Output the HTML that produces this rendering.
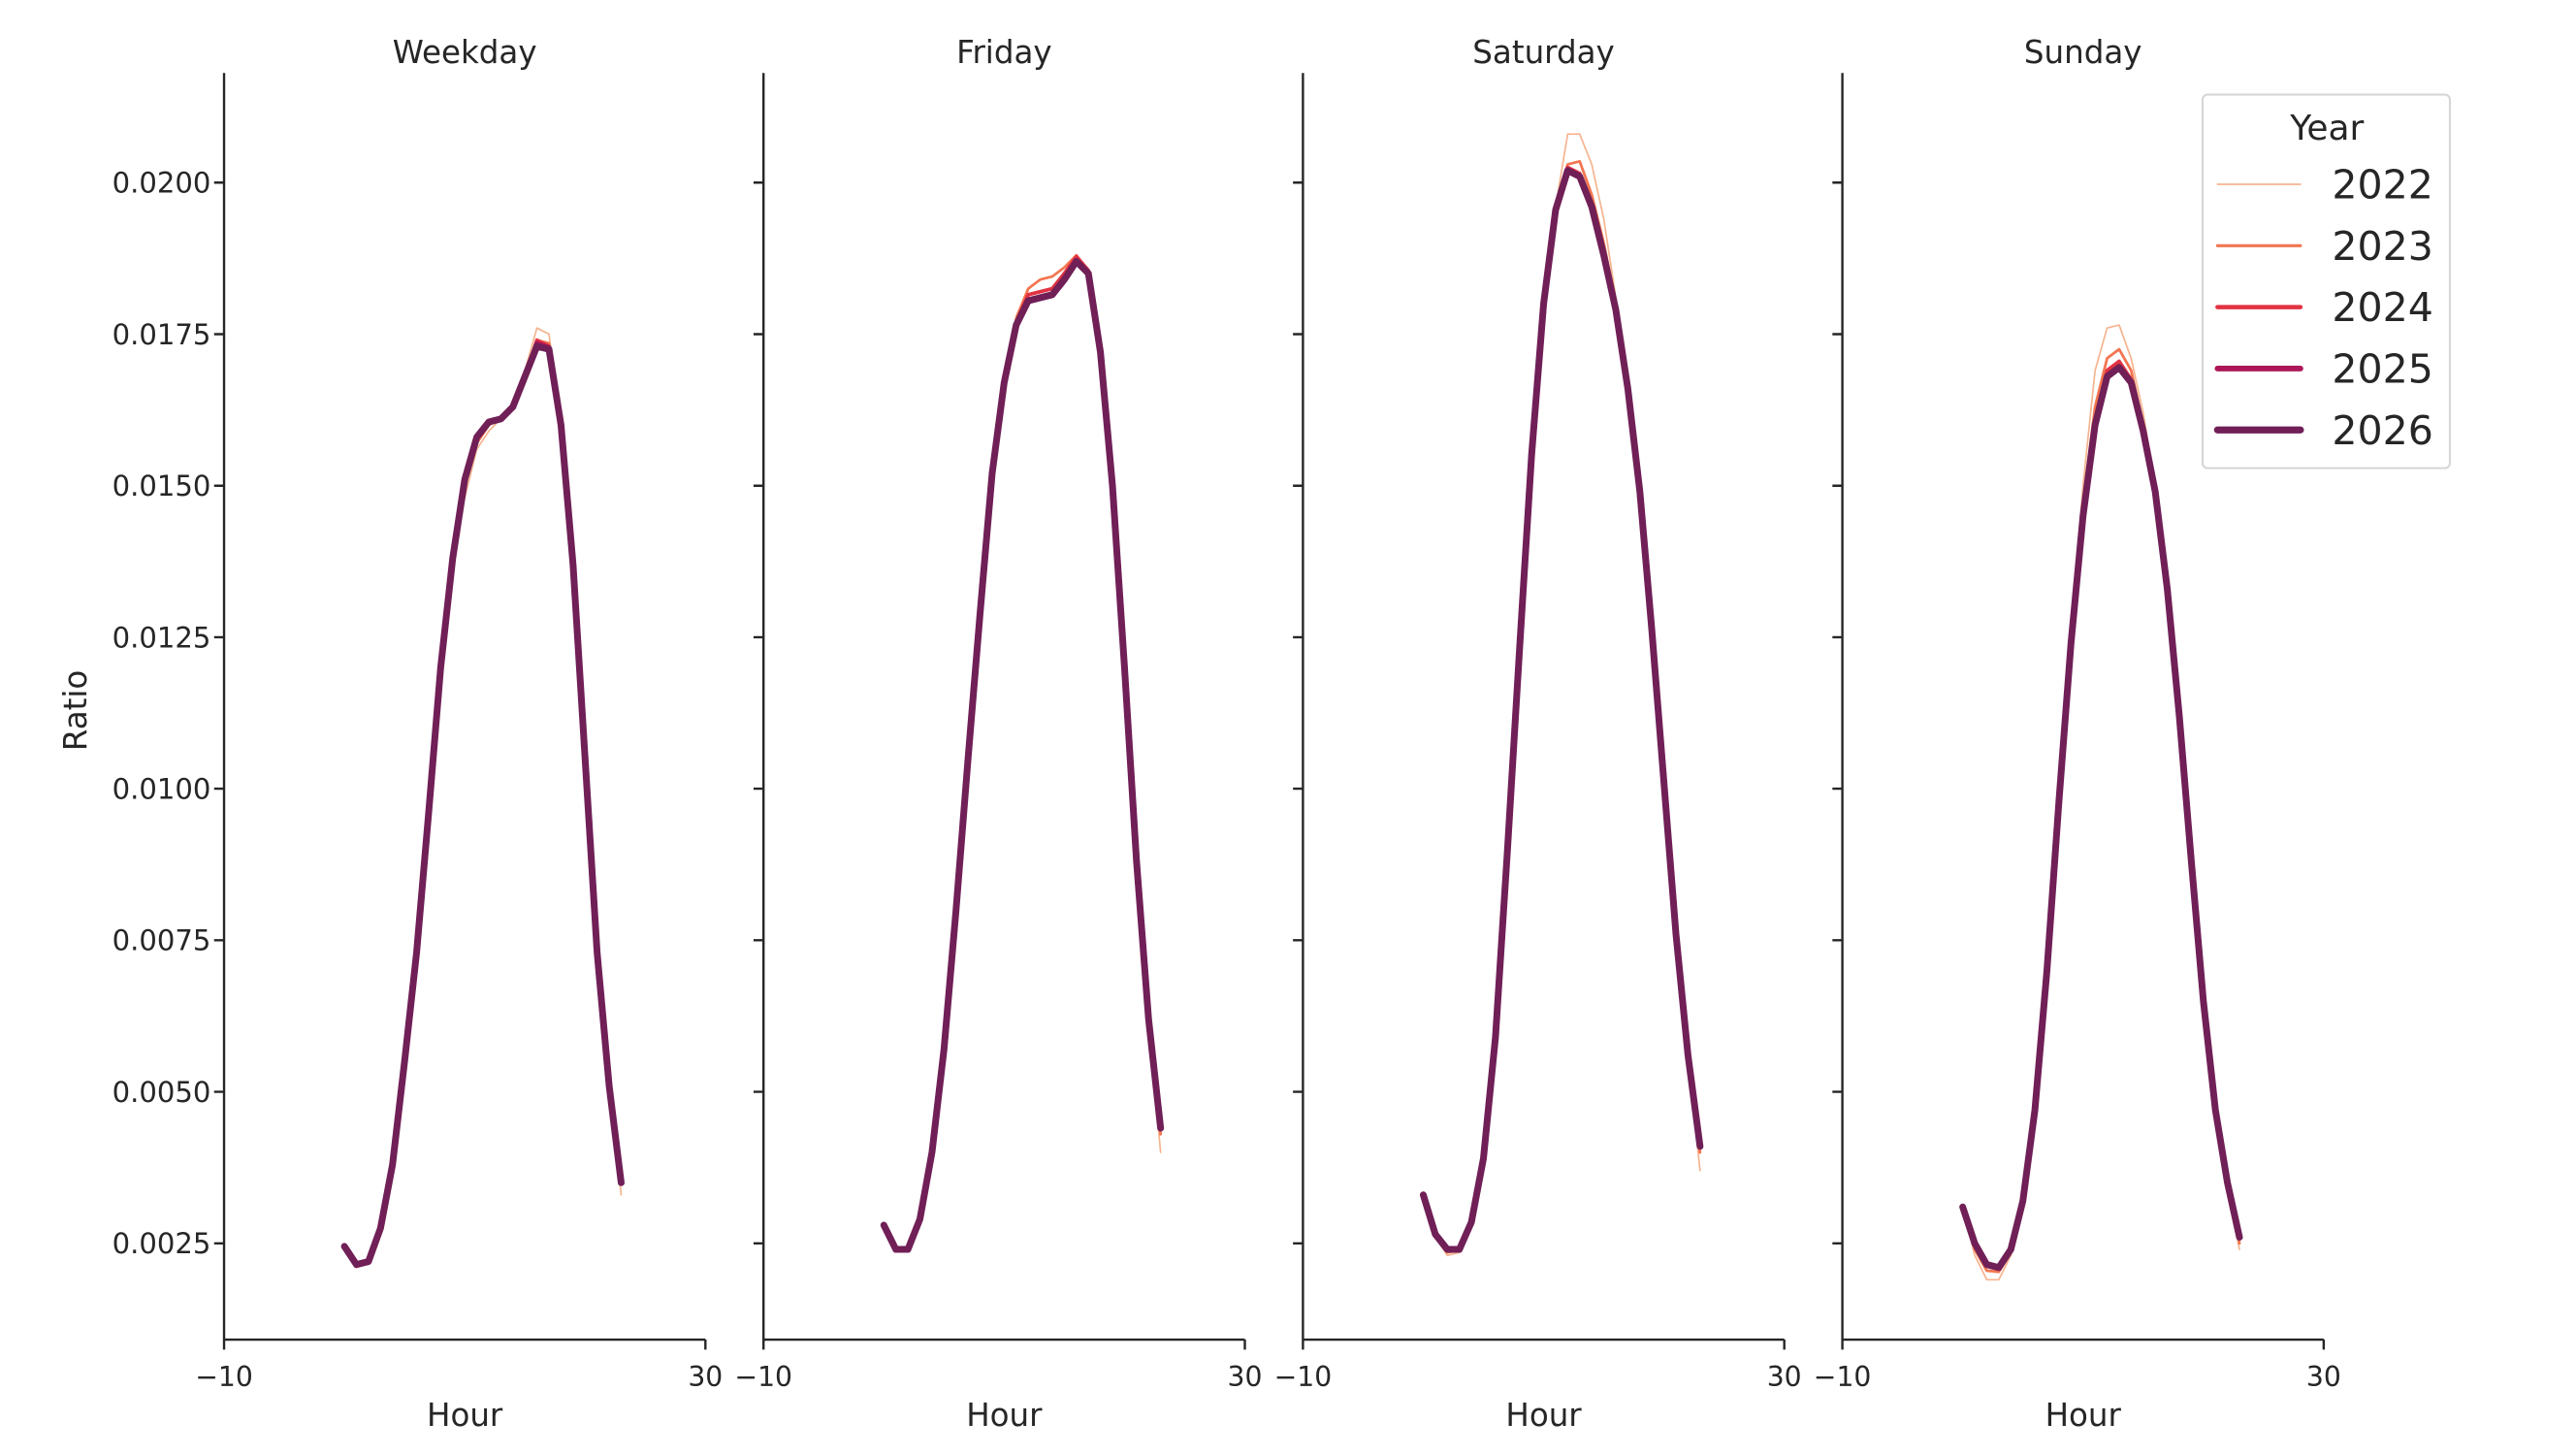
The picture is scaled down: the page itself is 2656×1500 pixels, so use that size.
<!DOCTYPE html>
<html><head><meta charset="utf-8"><style>
html,body{margin:0;padding:0;background:#fff;}
svg{display:block;}
text{font-family:"DejaVu Sans","Liberation Sans",sans-serif;fill:#262626;}
.ax{stroke:#262626;stroke-width:1.4;fill:none;}
.s{fill:none;stroke-linejoin:round;stroke-linecap:round;vector-effect:non-scaling-stroke;}
.c22{stroke:#f6b48f;stroke-width:1.7px;}
.c23{stroke:#f37651;stroke-width:2.8px;}
.c24{stroke:#e13342;stroke-width:3.8px;}
.c25{stroke:#ad1759;stroke-width:5px;}
.c26{stroke:#701f57;stroke-width:7px;}
</style></head><body>
<svg width="2656" height="1500" viewBox="0 0 1552 876.5" xmlns="http://www.w3.org/2000/svg">
<g class="ax">
<path d="M135,44V807H425M135,807v6M425,807v6"/>
<path d="M460,44V807H750M460,807v6M750,807v6"/>
<path d="M785,44V807H1075M785,807v6M1075,807v6"/>
<path d="M1110,44V807H1400M1110,807v6M1400,807v6"/>
<path d="M129,110h6M129,201.3h6M129,292.6h6M129,383.9h6M129,475.1h6M129,566.4h6M129,657.7h6M129,749h6"/>
<path d="M454,110h6M454,201.3h6M454,292.6h6M454,383.9h6M454,475.1h6M454,566.4h6M454,657.7h6M454,749h6"/>
<path d="M779,110h6M779,201.3h6M779,292.6h6M779,383.9h6M779,475.1h6M779,566.4h6M779,657.7h6M779,749h6"/>
<path d="M1104,110h6M1104,201.3h6M1104,292.6h6M1104,383.9h6M1104,475.1h6M1104,566.4h6M1104,657.7h6M1104,749h6"/>
</g>
<g font-size="17" text-anchor="end">
<text x="127" y="116">0.0200</text><text x="127" y="207.3">0.0175</text><text x="127" y="298.6">0.0150</text><text x="127" y="389.9">0.0125</text><text x="127" y="481.1">0.0100</text><text x="127" y="572.4">0.0075</text><text x="127" y="663.7">0.0050</text><text x="127" y="755">0.0025</text>
</g>
<g font-size="16.5" text-anchor="middle">
<text x="135" y="835">−10</text><text x="425" y="835">30</text>
<text x="460" y="835">−10</text><text x="750" y="835">30</text>
<text x="785" y="835">−10</text><text x="1075" y="835">30</text>
<text x="1110" y="835">−10</text><text x="1400" y="835">30</text>
</g>
<g font-size="19" text-anchor="middle">
<text x="280" y="859">Hour</text><text x="605" y="859">Hour</text><text x="930" y="859">Hour</text><text x="1255" y="859">Hour</text>
<text x="280" y="38">Weekday</text><text x="605" y="38">Friday</text><text x="930" y="38">Saturday</text><text x="1255" y="38">Sunday</text>
<text transform="translate(52,428) rotate(-90)">Ratio</text>
</g>
<g transform="translate(207.5,840.29) scale(7.25,-3.6516)">
<polyline class="s c22" points="0,24.5 1,21 2,22 3,27.5 4,38 5,55 6,73 7,96 8,120 9,138 10,148 11,156 12,159 13,161 14,163 15,169 16,176 17,175 18,160 19,137 20,105 21,73 22,51 23,33"/>
<polyline class="s c23" points="0,24.5 1,21.3 2,22 3,27.5 4,38 5,55 6,73 7,96 8,120 9,138 10,150 11,157 12,160 13,161 14,163 15,168.5 16,174 17,173.5 18,160 19,137 20,105 21,73 22,51 23,35"/>
<polyline class="s c24" points="0,24.5 1,21.5 2,22 3,27.5 4,38 5,55 6,73 7,96 8,120 9,138 10,151 11,158 12,160.5 13,161 14,163 15,168 16,174 17,173 18,160 19,137 20,105 21,73 22,51 23,35"/>
<polyline class="s c25" points="0,24.5 1,21.5 2,22 3,27.5 4,38 5,55 6,73 7,96 8,120 9,138 10,151 11,158 12,160.5 13,161 14,163 15,168 16,173.5 17,172.8 18,160 19,137 20,105 21,73 22,51 23,35"/>
<polyline class="s c26" points="0,24.5 1,21.5 2,22 3,27.5 4,38 5,55 6,73 7,96 8,120 9,138 10,151 11,158 12,160.5 13,161 14,163 15,168 16,173 17,172.5 18,160 19,137 20,105 21,73 22,51 23,35"/>
</g>
<g transform="translate(532.5,840.29) scale(7.25,-3.6516)">
<polyline class="s c22" points="0,28 1,24 2,24 3,29 4,40 5,57 6,80 7,105 8,129 9,152 10,167 11,178 12,182.5 13,184 14,184.5 15,186 16,188 17,185.5 18,172 19,150 20,120 21,88 22,62 23,40"/>
<polyline class="s c23" points="0,28 1,24 2,24 3,29 4,40 5,57 6,80 7,105 8,129 9,152 10,167 11,177.5 12,182.5 13,184 14,184.5 15,186 16,188 17,185.5 18,172 19,150 20,120 21,88 22,62 23,43"/>
<polyline class="s c24" points="0,28 1,24 2,24 3,29 4,40 5,57 6,80 7,105 8,129 9,152 10,167 11,177 12,181.5 13,182 14,182.5 15,185 16,187.8 17,185.5 18,172 19,150 20,120 21,88 22,62 23,44"/>
<polyline class="s c25" points="0,28 1,24 2,24 3,29 4,40 5,57 6,80 7,105 8,129 9,152 10,167 11,176.5 12,180.5 13,181 14,181.5 15,184 16,187 17,185 18,172 19,150 20,120 21,88 22,62 23,44"/>
<polyline class="s c26" points="0,28 1,24 2,24 3,29 4,40 5,57 6,80 7,105 8,129 9,152 10,167 11,176.5 12,180.5 13,181 14,181.5 15,184 16,187 17,185 18,172 19,150 20,120 21,88 22,62 23,44"/>
</g>
<g transform="translate(857.5,840.29) scale(7.25,-3.6516)">
<polyline class="s c22" points="0,33 1,26 2,23 3,23.5 4,28.5 5,39 6,59 7,90 8,123 9,155 10,180 11,196 12,208 13,208 14,203 15,194 16,181 17,167 18,149 19,126 20,101 21,76 22,56 23,37"/>
<polyline class="s c23" points="0,33 1,26.3 2,23.5 3,23.8 4,28.5 5,39 6,59 7,90 8,123 9,155 10,180 11,196 12,203 13,203.5 14,198 15,190 16,180 17,166.5 18,149 19,126 20,101 21,76 22,56 23,40"/>
<polyline class="s c24" points="0,33 1,26.5 2,24 3,24 4,28.5 5,39 6,59 7,90 8,123 9,155 10,180 11,195.5 12,202.5 13,201.5 14,196.5 15,188.5 16,179 17,166 18,149 19,126 20,101 21,76 22,56 23,41"/>
<polyline class="s c25" points="0,33 1,26.5 2,24 3,24 4,28.5 5,39 6,59 7,90 8,123 9,155 10,180 11,195.5 12,202 13,201 14,196 15,188 16,179 17,166 18,149 19,126 20,101 21,76 22,56 23,41"/>
<polyline class="s c26" points="0,33 1,26.5 2,24 3,24 4,28.5 5,39 6,59 7,90 8,123 9,155 10,180 11,195.5 12,202 13,201 14,196 15,188 16,179 17,166 18,149 19,126 20,101 21,76 22,56 23,41"/>
</g>
<g transform="translate(1182.5,840.29) scale(7.25,-3.6516)">
<polyline class="s c22" points="0,31 1,23 2,19 3,19 4,23 5,32 6,47 7,70 8,98 9,126 10,150 11,169 12,176 13,176.5 14,171 15,162 16,150 17,133 18,112 19,88 20,65 21,47 22,34 23,24"/>
<polyline class="s c23" points="0,31 1,24 2,20.5 3,20.3 4,23.5 5,32 6,47 7,70 8,98 9,125 10,147 11,163 12,171 13,172.5 14,169 15,160 16,149 17,133 18,112 19,88 20,65 21,47 22,35 23,25"/>
<polyline class="s c24" points="0,31 1,25 2,21.5 3,21 4,24 5,32 6,47 7,70 8,98 9,124 10,145 11,160.5 12,169 13,170.5 14,167.5 15,159 16,149 17,133 18,112 19,88 20,65 21,47 22,35 23,26"/>
<polyline class="s c25" points="0,31 1,25 2,21.5 3,21 4,24 5,32 6,47 7,70 8,98 9,124 10,145 11,160 12,168 13,169.5 14,167 15,159 16,149 17,133 18,112 19,88 20,65 21,47 22,35 23,26"/>
<polyline class="s c26" points="0,31 1,25 2,21.5 3,21 4,24 5,32 6,47 7,70 8,98 9,124 10,145 11,160 12,168 13,169.5 14,167 15,159 16,149 17,133 18,112 19,88 20,65 21,47 22,35 23,26"/>
</g>
<rect x="1327" y="57" width="149" height="225" rx="3" fill="#fff" stroke="#d6d6d6" stroke-width="1.2"/>
<text x="1402" y="84" font-size="21" text-anchor="middle">Year</text>
<g stroke-linecap="round">
<line x1="1336" y1="111" x2="1386" y2="111" stroke="#f6b48f" stroke-width="1"/>
<line x1="1336" y1="148" x2="1386" y2="148" stroke="#f37651" stroke-width="1.8"/>
<line x1="1336" y1="185" x2="1386" y2="185" stroke="#e13342" stroke-width="2.6"/>
<line x1="1336" y1="222" x2="1386" y2="222" stroke="#ad1759" stroke-width="3.4"/>
<line x1="1336" y1="259" x2="1386" y2="259" stroke="#701f57" stroke-width="4.2"/>
</g>
<g font-size="24">
<text x="1405" y="119.5">2022</text><text x="1405" y="156.5">2023</text><text x="1405" y="193.5">2024</text><text x="1405" y="230.5">2025</text><text x="1405" y="267.5">2026</text>
</g>
</svg>
</body></html>
